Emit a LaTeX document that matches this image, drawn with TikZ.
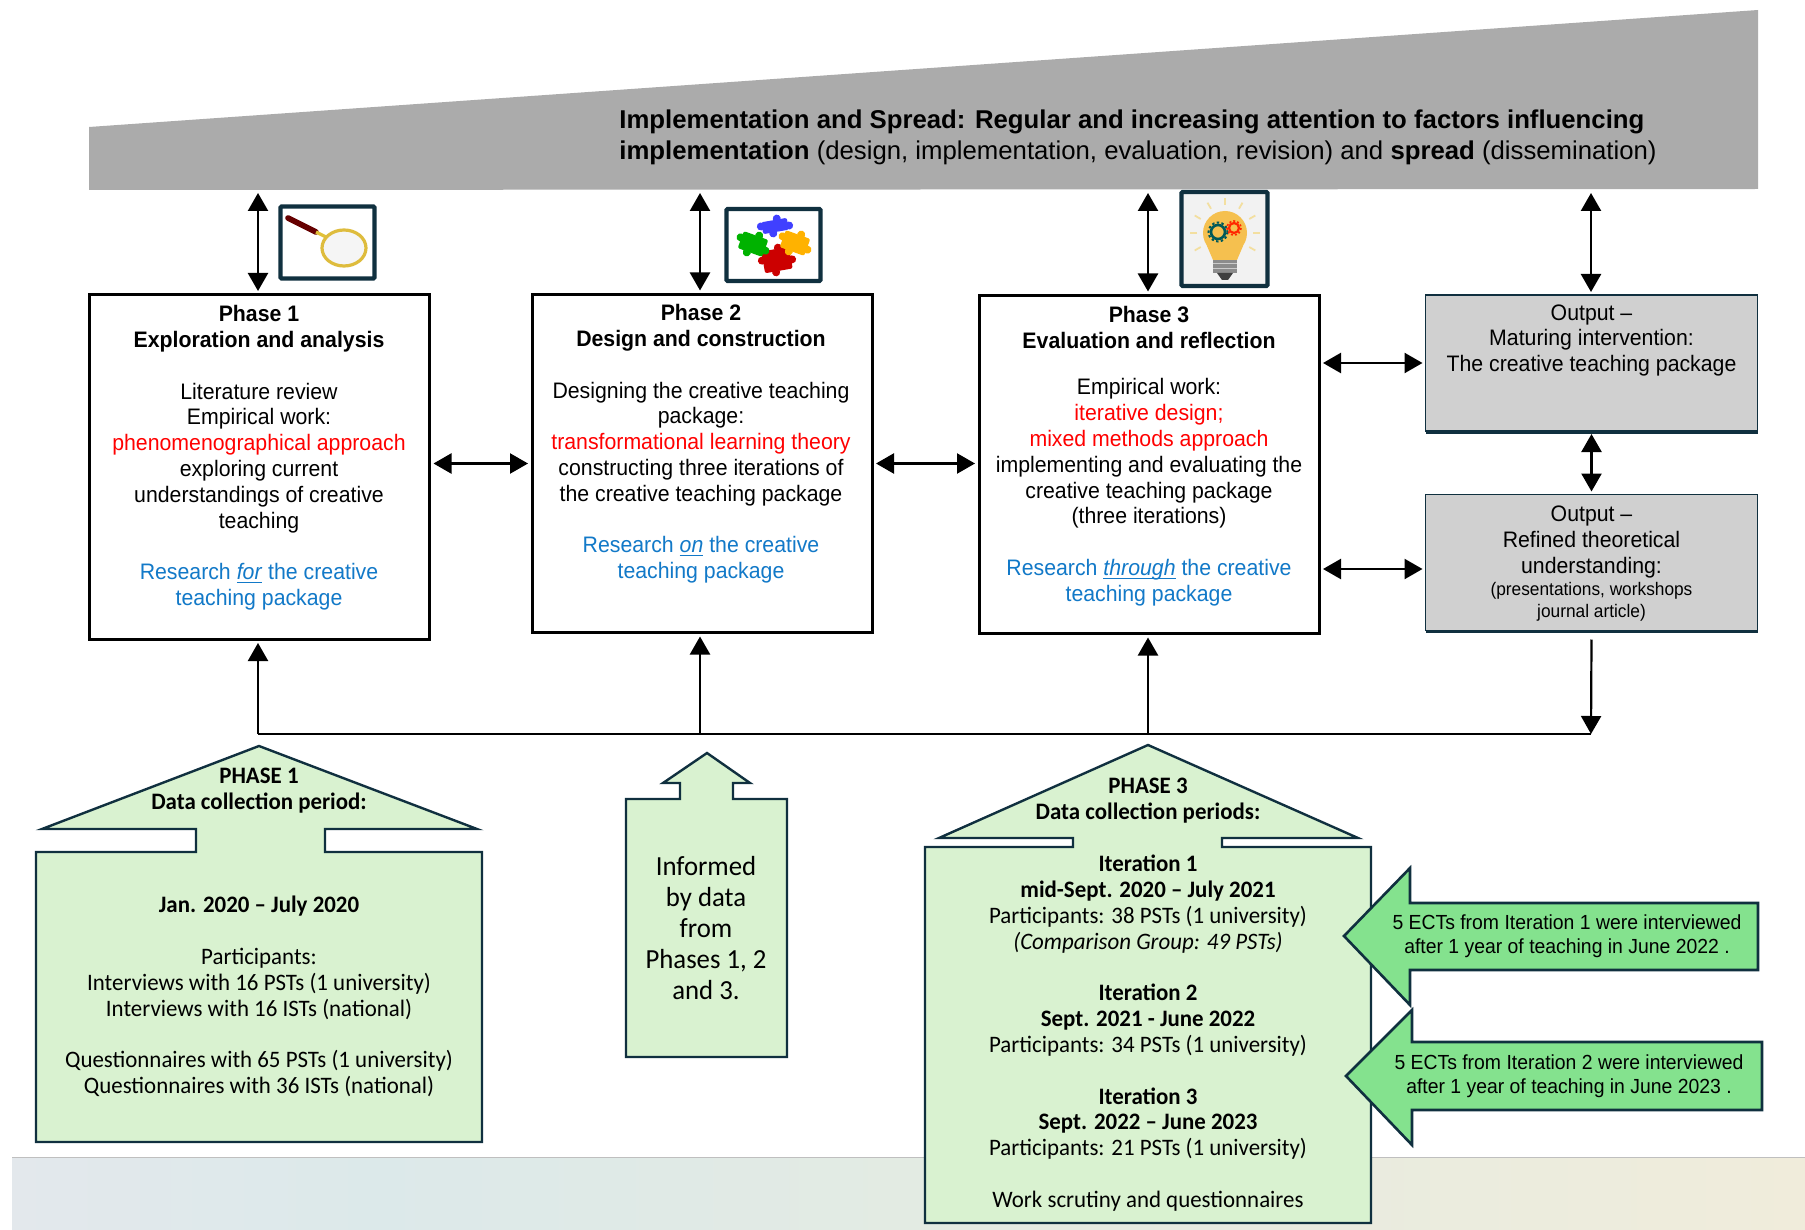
\documentclass[tikz,border=0pt]{standalone}
\usepackage{fontspec}
\setmainfont{Liberation Sans}[FakeStretch=0.95,Ligatures=TeX]
\newfontfamily\greenfont{Carlito}[FakeStretch=0.97,Ligatures=TeX]
\newfontfamily\bannerfont{Liberation Sans}
\usetikzlibrary{arrows.meta,positioning,calc}
\definecolor{bannergray}{HTML}{ABABAB}
\definecolor{outgray}{HTML}{D0D0D0}
\definecolor{paleleaf}{HTML}{D9F2D0}
\definecolor{midleaf}{HTML}{84E28E}
\definecolor{navyline}{HTML}{10303F}
\definecolor{linkblue}{HTML}{1279C8}
\definecolor{hotred}{HTML}{FF0000}
\definecolor{bulbyellow}{HTML}{F5C04F}
\definecolor{rayyellow}{HTML}{F3DFA0}
\pgfdeclarehorizontalshading{bandshade}{100bp}{rgb(0bp)=(.89,.91,.925); rgb(25bp)=(.89,.91,.925); rgb(35bp)=(.863,.914,.918); rgb(52bp)=(.894,.922,.886); rgb(75bp)=(.941,.925,.859); rgb(100bp)=(.941,.925,.859)}
\tikzset{
  phasebox/.style={draw=black,line width=1.5pt,fill=white,outer sep=2pt,inner sep=0pt},
  outbox/.style={draw=navyline,line width=0.9pt,fill=outgray,outer sep=1.5pt,inner sep=0pt},
  boxtext/.style={anchor=north,align=center,inner sep=0pt,font=\fontsize{11.2}{12.9}\selectfont},
  greentext/.style={anchor=north,align=center,inner sep=0pt,font=\greenfont\fontsize{11.8}{12.9}\selectfont},
  greenshape/.style={draw=navyline,line width=1.2pt,fill=paleleaf,line join=miter},
  ectshape/.style={draw=navyline,line width=1.3pt,fill=midleaf,line join=miter},
  ecttext/.style={align=center,inner sep=0pt,font=\fontsize{10.2}{12}\selectfont},
  icon/.style={draw=navyline,line width=2.1pt,fill=white,rounded corners=0.5pt,inner sep=0pt},
  outedge/.style={navyline,line width=1.6pt,shorten <=1.5pt,shorten >=1.5pt},
  twoway/.style={{Stealth[inset=0pt,length=9pt,width=10pt]}-{Stealth[inset=0pt,length=9pt,width=10pt]},line width=1.2pt},
  oneway/.style={-{Stealth[inset=0pt,length=9pt,width=10pt]},line width=1.1pt}
}
\newcommand{\redline}[1]{\textcolor{hotred}{#1}}
\newcommand{\blueline}[1]{\textcolor{linkblue}{#1}}
\newcommand{\smallline}[1]{{\fontsize{9.1}{10.3}\selectfont #1}}
\newcommand{\slanted}[1]{\underline{\smash{\textit{#1}}}}
% one jigsaw piece: centre, half width, half height, angle, colour
\newcommand{\puzzlepiece}[6]{
    \begin{scope}[rotate around={#5:(#1,#2)}]
    \fill[#6,rounded corners=1pt] (#1-#3,#2-#4) rectangle (#1+#3,#2+#4);
    \fill[#6] (#1-#3-1,#2-2) circle (4);
    \fill[#6] (#1+3,#2-#4-1) circle (4);
    \fill[#6] (#1+#3+1,#2+2) circle (4);
    \fill[#6] (#1-3,#2+#4+1) circle (4);
    \end{scope}
}
\begin{document}
\begin{tikzpicture}[x=0.5pt,y=-0.5pt]
    \useasboundingbox (0,0) rectangle (1805,1230);
    % background band and banner
    \shade[shading=bandshade] (12,1157) rectangle (1805,1229);
    \draw[line width=0.5pt,black!25] (12,1157) -- (1805,1157);
    \fill[bannergray] (89,127) -- (1758,10) -- (1758,189) -- (89,190) -- cycle;
    \node[anchor=north west,align=left,inner sep=0pt,font=\bannerfont\fontsize{12.87}{15.5}\selectfont] (bannertext) at (619,109)
      {\textbf{Implementation and Spread: Regular and increasing attention to factors influencing}\\
       \textbf{implementation} (design, implementation, evaluation, revision) and \textbf{spread} (dissemination)};
    % phase boxes
    \node[phasebox,minimum width=170pt,minimum height=172pt] (phaseone) at (259.5,467) {};
    \node[phasebox,minimum width=170pt,minimum height=169pt] (phasetwo) at (702,463.5) {};
    \node[phasebox,minimum width=170pt,minimum height=169pt] (phasethree) at (1149,464.5) {};
    \node[outbox,minimum width=166pt,minimum height=68pt] (outone) at (1591.5,363) {};
    \node[outbox,minimum width=166pt,minimum height=68pt] (outtwo) at (1591.5,562.5) {};
    \draw[outedge] ([yshift=1pt]outone.south west) -- ([yshift=1pt]outone.south east);
    \draw[outedge] ([yshift=1pt]outtwo.south west) -- ([yshift=1pt]outtwo.south east);
    \node[boxtext] (phaseonetext) at (259,305)
      {\textbf{Phase 1}\\ \textbf{Exploration and analysis}\\[12.9pt]
       Literature review\\ Empirical work:\\ \redline{phenomenographical approach}\\
       exploring current\\ understandings of creative\\ teaching\\[12.9pt]
       \blueline{Research \slanted{for} the creative}\\ \blueline{teaching package}};
    \node[boxtext] (phasetwotext) at (701,304)
      {\textbf{Phase 2}\\ \textbf{Design and construction}\\[12.9pt]
       Designing the creative teaching\\ package:\\ \redline{transformational learning theory}\\
       constructing three iterations of\\ the creative teaching package\\[12.9pt]
       \blueline{Research \slanted{on} the creative}\\ \blueline{teaching package}};
    \node[boxtext] (phasethreetext) at (1149,306)
      {\textbf{Phase 3}\\ \textbf{Evaluation and reflection}\\[10.3pt]
       Empirical work:\\ \redline{iterative design;}\\ \redline{mixed methods approach}\\
       implementing and evaluating the\\ creative teaching package\\ (three iterations)\\[12.9pt]
       \blueline{Research \slanted{through} the creative}\\ \blueline{teaching package}};
    \node[boxtext] (outonetext) at (1591.5,304)
      {Output –\\ Maturing intervention:\\ The creative teaching package};
    \node[boxtext] (outtwotext) at (1591.5,505.5)
      {Output –\\ Refined theoretical\\ understanding:\\[-1.8pt]
       \smallline{(presentations, workshops}\\[-1.8pt] \smallline{journal article)}};
    % icons
    \node[icon,minimum width=47pt,minimum height=36pt] (lensicon) at (327.5,242.5) {};
    \draw[line width=2.8pt,red!40!black,line cap=round] (288,218) -- (316,232);
    \draw[line width=1.6pt,yellow!50!brown] (316,232) -- (328,238);
    \draw[line width=1.6pt,yellow!45!brown,fill=black!4] (344,248) ellipse (22 and 18);
    \node[icon,minimum width=47pt,minimum height=36pt] (puzzleicon) at (773.5,245) {};
    \puzzlepiece{777}{260}{14}{11}{10}{red!80!black}
    \puzzlepiece{795}{243}{13}{9}{-20}{orange!60!yellow}
    \puzzlepiece{753}{244}{13}{9}{-20}{green!70!black}
    \puzzlepiece{775}{226}{13}{6}{10}{blue!75!white}
    \node[icon,fill=white!95!black,minimum width=43pt,minimum height=47pt] (bulbicon) at (1224.5,239) {};
    \foreach \ang in {-150,-120,-90,-60,-30,0,180,30,150}
    {
    \draw[line width=0.9pt,rayyellow] ($(1225,233)+(\ang:28)$) -- ($(1225,233)+(\ang:35)$);
    }
    \fill[bulbyellow] (1225,233) circle (22);
    \fill[bulbyellow] (1207,246) -- (1243,246) -- (1237,260) -- (1213,260) -- cycle;
    \fill[black!45] (1213,260) rectangle (1237,273);
    \fill[black!75] (1217,273) -- (1233,273) -- (1228,280) -- (1222,280) -- cycle;
    \foreach \ring in {263.5,268.5}
    {
    \draw[line width=0.5pt,black!20] (1213,\ring) -- (1237,\ring);
    }
    \draw[line width=1.3pt,teal!70!black] (1218,232) circle (7);
    \draw[line width=1pt,teal!70!black,dash pattern=on 1.2pt off 1.2pt] (1218,232) circle (9.5);
    \draw[line width=1.1pt,red!70!orange] (1234,228) circle (5);
    \draw[line width=0.8pt,red!70!orange,dash pattern=on 1pt off 1pt] (1234,228) circle (7);
    % data shapes
    \draw[greenshape] (259,746) -- (477,829) -- (325,829) -- (325,852) -- (482,852) -- (482,1142) -- (36,1142) -- (36,852) -- (196,852) -- (196,829) -- (42,829) -- cycle;
    \draw[greenshape] (707,753) -- (750,783) -- (733,783) -- (733,799) -- (787,799) -- (787,1057) -- (626,1057) -- (626,799) -- (680,799) -- (680,783) -- (663,783) -- cycle;
    \draw[greenshape] (1148,745) -- (1358,838) -- (1222,838) -- (1222,847) -- (1371,847) -- (1371,1223) -- (925,1223) -- (925,847) -- (1073,847) -- (1073,838) -- (939,838) -- cycle;
    \draw[ectshape] (1344,936) -- (1410,868) -- (1410,903) -- (1758,903) -- (1758,970) -- (1410,970) -- (1410,1005) -- cycle;
    \draw[ectshape] (1346,1076) -- (1412,1010) -- (1412,1042) -- (1762,1042) -- (1762,1110) -- (1412,1110) -- (1412,1145) -- cycle;
    \node[greentext] (phaseonedata) at (259,768)
      {\textbf{PHASE 1}\\ \textbf{Data collection period:}\\[38.7pt]
       \textbf{Jan. 2020 – July 2020}\\[12.9pt]
       Participants:\\ Interviews with 16 PSTs (1 university)\\ Interviews with 16 ISTs (national)\\[12.9pt]
       Questionnaires with 65 PSTs (1 university)\\ Questionnaires with 36 ISTs (national)};
    \node[greentext,font=\greenfont\fontsize{13.8}{15.5}\selectfont] (phasetwodata) at (706,856)
      {Informed\\ by data\\ from\\ Phases 1, 2\\ and 3.};
    \node[greentext] (phasethreedata) at (1148,778)
      {\textbf{PHASE 3}\\ \textbf{Data collection periods:}\\[13.2pt]
       \textbf{Iteration 1}\\ \textbf{mid-Sept. 2020 – July 2021}\\ Participants: 38 PSTs (1 university)\\ \textit{(Comparison Group: 49 PSTs)}\\[12.9pt]
       \textbf{Iteration 2}\\ \textbf{Sept. 2021 - June 2022}\\ Participants: 34 PSTs (1 university)\\[12.9pt]
       \textbf{Iteration 3}\\ \textbf{Sept. 2022 – June 2023}\\ Participants: 21 PSTs (1 university)\\[12.9pt]
       Work scrutiny and questionnaires};
    \node[ecttext] (ectone) at (1567,936)
      {5 ECTs from Iteration 1 were interviewed\\ after 1 year of teaching in June 2022 .};
    \node[ecttext] (ecttwo) at (1569,1076)
      {5 ECTs from Iteration 2 were interviewed\\ after 1 year of teaching in June 2023 .};
    % connectors
    \foreach \name/\here/\xpos in {phaseone/bannerone/258,phasetwo/bannertwo/700,phasethree/bannerthree/1148,outone/bannerfour/1591}
    {
    \coordinate (\here) at (\xpos,193);
    \draw[twoway] (\here) -- (\here |- \name.north);
    }
    \draw[twoway] (phaseone.east |- phasetwo) -- (phasetwo);
    \draw[twoway] (phasetwo) -- (phasethree.west |- phasetwo);
    \draw[twoway] (phasethree.east |- outone) -- (outone);
    \coordinate (rowtwo) at (1400,569);
    \draw[twoway] (phasethree.east |- rowtwo) -- (outtwo.west |- rowtwo);
    \draw[twoway] (outone) -- (outtwo);
    \coordinate (busleft) at (258,734);
    \coordinate (busmid) at (700,734);
    \coordinate (busthree) at (1148,734);
    \coordinate (busright) at (1591,734);
    \draw[line width=1.1pt] (busleft) -- (busright);
    \draw[oneway] (busleft) -- (busleft |- phaseone.south);
    \draw[oneway] (busmid) -- (busmid |- phasetwo.south);
    \draw[oneway] (busthree) -- (busthree |- phasethree.south);
    \draw[oneway] ([yshift=-3pt]outtwo.south) -- (busright);
\end{tikzpicture}
\end{document}
